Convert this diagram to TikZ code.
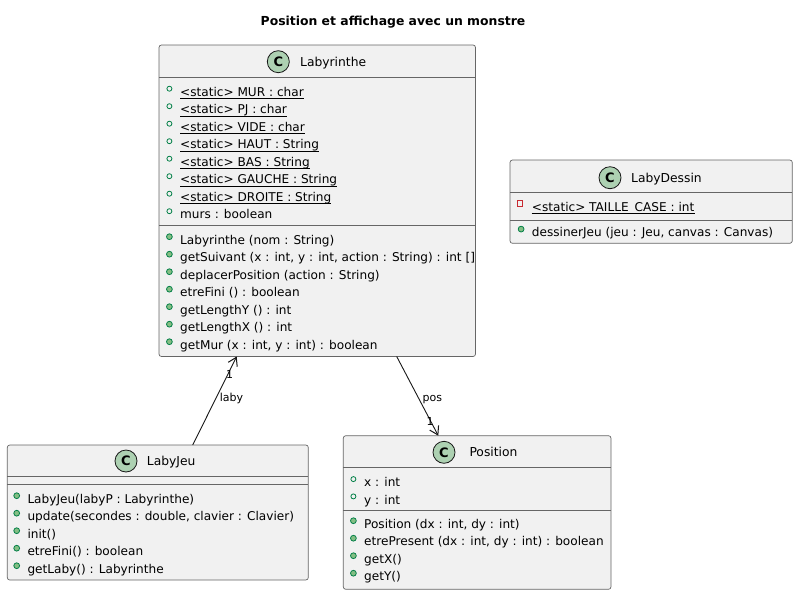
\documentclass[tikz,border=0pt]{standalone}
\usepackage{fontspec}
\setmainfont{DejaVu Sans}
\newfontfamily\djv{DejaVu Sans}
\usetikzlibrary{arrows.meta,calc}
\definecolor{boxfill}{HTML}{F1F1F1}
\definecolor{boxline}{HTML}{181818}
\definecolor{boxgray}{HTML}{666666}
\definecolor{cfill}{HTML}{ADD1B2}
\definecolor{pubgreen}{HTML}{038048}
\definecolor{methfill}{HTML}{84BE84}
\definecolor{privred}{HTML}{C82930}
\newcommand\umlAttrIcon[1]{\draw[pubgreen,line width=0.8pt] ([xshift=-10.6pt,yshift=7.6pt]#1.base west) circle (2.5pt);}
\newcommand\umlMethIcon[1]{\filldraw[draw=pubgreen,fill=methfill,line width=0.8pt] ([xshift=-10.6pt,yshift=7.6pt]#1.base west) circle (2.9pt);}
\newcommand\umlUnder[1]{\draw[line width=0.9pt] ([yshift=-2.3pt]#1.base west) -- ([yshift=-2.3pt]#1.base east);}
\begin{document}
\begin{tikzpicture}[x=1pt,y=-1pt,
  classbox/.style={draw=boxgray,fill=boxfill,line width=0.7pt,rounded corners=2.5pt,inner sep=0pt,outer sep=0pt,anchor=north west},
  sepline/.style={draw=boxgray,line width=0.7pt},
  cicon/.style={circle,draw=boxline,fill=cfill,line width=0.8pt,minimum size=22pt,inner sep=0pt,font=\djv\bfseries\fontsize{13}{15}\selectfont},
  cname/.style={anchor=base west,inner sep=0pt,font=\djv\fontsize{12.3}{14}\selectfont},
  mem/.style={anchor=base west,inner sep=0pt,font=\djv\fontsize{12.1}{14}\selectfont},
  lbl/.style={anchor=base,inner sep=0pt,font=\djv\fontsize{11}{13}\selectfont},
  assoc/.style={draw=boxline,line width=0.9pt,-{Straight Barb[length=8pt,width=10pt,line width=1pt]}}
]
\useasboundingbox (0,0) rectangle (798,595);
\fill[white] (0,0) rectangle (798,595);

% Title
\node[anchor=base,inner sep=0pt,font=\djv\bfseries\fontsize{12.4}{15}\selectfont] (title) at (393,25.7) {Position et affichage avec un monstre};

% ---------- Labyrinthe ----------
\node[classbox,minimum width=316.5pt,minimum height=311.5pt] (laby) at (159,45) {};
\draw[sepline] (159,77) -- (475.5,77);
\draw[sepline] (159,225.7) -- (475.5,225.7);
\node[cicon] (labyC) at (278.3,61.7) {C};
\node[cname] (labyN) at (300,66.3) {Labyrinthe};
\node[mem] (la1) at (180,96.3) {<static> MUR : char};
\node[mem] (la2) at (180,113.8) {<static> PJ : char};
\node[mem] (la3) at (180,131.3) {<static> VIDE : char};
\node[mem] (la4) at (180,148.8) {<static> HAUT : String};
\node[mem] (la5) at (180,166.3) {<static> BAS : String};
\node[mem] (la6) at (180,183.8) {<static> GAUCHE : String};
\node[mem] (la7) at (180,201.3) {<static> DROITE : String};
\node[mem] (la8) at (180,218.8) {murs : boolean};
\node[mem] (lm1) at (180,244.3) {Labyrinthe (nom : String)};
\node[mem] (lm2) at (180,261.8) {getSuivant (x : int, y : int, action : String) : int []};
\node[mem] (lm3) at (180,279.3) {deplacerPosition (action : String)};
\node[mem] (lm4) at (180,296.8) {etreFini () : boolean};
\node[mem] (lm5) at (180,314.3) {getLengthY () : int};
\node[mem] (lm6) at (180,331.8) {getLengthX () : int};
\node[mem] (lm7) at (180,349.3) {getMur (x : int, y : int) : boolean};
\foreach \n in {la1,la2,la3,la4,la5,la6,la7,la8} {\umlAttrIcon{\n}}
\foreach \n in {la1,la2,la3,la4,la5,la6,la7} {\umlUnder{\n}}
\foreach \n in {lm1,lm2,lm3,lm4,lm5,lm6,lm7} {\umlMethIcon{\n}}

% ---------- LabyDessin ----------
\node[classbox,minimum width=282.3pt,minimum height=83.3pt] (dess) at (510,160) {};
\draw[sepline] (510,192.3) -- (792.3,192.3);
\draw[sepline] (510,220) -- (792.3,220);
\node[cicon] (dessC) at (610,177.7) {C};
\node[cname] (dessN) at (631,182.3) {LabyDessin};
\node[mem] (da1) at (531.7,211.3) {<static> TAILLE\_CASE : int};
\node[mem] (dm1) at (531.7,236.7) {dessinerJeu (jeu : Jeu, canvas : Canvas)};
\draw[privred,line width=0.8pt] ([xshift=-14.8pt,yshift=5pt]da1.base west) rectangle ([xshift=-9.2pt,yshift=10.6pt]da1.base west);
\umlUnder{da1}
\umlMethIcon{dm1}

% ---------- LabyJeu ----------
\node[classbox,minimum width=301pt,minimum height=135pt] (jeu) at (7.3,445) {};
\draw[sepline] (7.3,476.7) -- (308.3,476.7);
\draw[sepline] (7.3,484.3) -- (308.3,484.3);
\node[cicon] (jeuC) at (126,461) {C};
\node[cname] (jeuN) at (146.7,465.5) {LabyJeu};
\node[mem] (jm1) at (27.3,503.3) {LabyJeu(labyP : Labyrinthe)};
\node[mem] (jm2) at (27.3,520.8) {update(secondes : double, clavier : Clavier)};
\node[mem] (jm3) at (27.3,538.3) {init()};
\node[mem] (jm4) at (27.3,555.8) {etreFini() : boolean};
\node[mem] (jm5) at (27.3,573.3) {getLaby() : Labyrinthe};
\foreach \n in {jm1,jm2,jm3,jm4,jm5} {\umlMethIcon{\n}}

% ---------- Position ----------
\node[classbox,minimum width=267.7pt,minimum height=153.6pt] (pos) at (343.3,435.7) {};
\draw[sepline] (343.3,467.3) -- (611,467.3);
\draw[sepline] (343.3,510.7) -- (611,510.7);
\node[cicon] (posC) at (444,452.3) {C};
\node[cname] (posN) at (469.3,456.8) {Position};
\node[mem] (pa1) at (364,486.7) {x : int};
\node[mem] (pa2) at (364,504) {y : int};
\node[mem] (pm1) at (364,528.3) {Position (dx : int, dy : int)};
\node[mem] (pm2) at (364,545.8) {etrePresent (dx : int, dy : int) : boolean};
\node[mem] (pm3) at (364,563.3) {getX()};
\node[mem] (pm4) at (364,580.8) {getY()};
\foreach \n in {pa1,pa2} {\umlAttrIcon{\n}}
\foreach \n in {pm1,pm2,pm3,pm4} {\umlMethIcon{\n}}

% ---------- Connectors ----------
\draw[assoc] ([xshift=185.4pt]jeu.north west) -- ([xshift=77.7pt]laby.south west);
\node[lbl] (l1) at (229.5,378) {1};
\node[lbl] (lname) at (231.5,401.5) {laby};
\draw[assoc] ([xshift=237.7pt]laby.south west) -- ([xshift=95pt]pos.north west);
\node[lbl] (pname) at (432.3,401) {pos};
\node[lbl] (p1) at (430,425) {1};
\end{tikzpicture}
\end{document}
